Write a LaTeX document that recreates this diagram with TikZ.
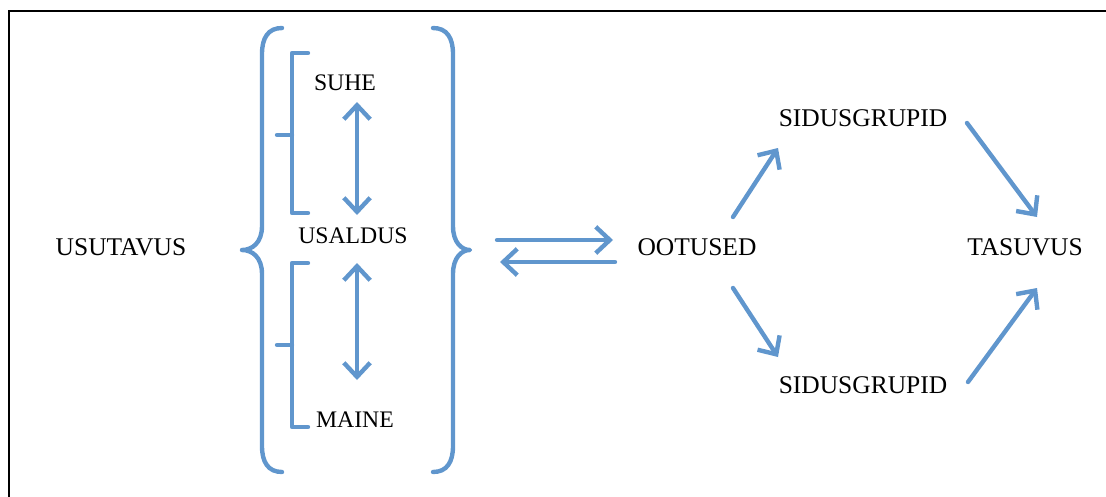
\documentclass[tikz,border=0pt]{standalone}
\usepackage{fontspec}
\setmainfont{Liberation Serif}
\usetikzlibrary{arrows.meta, calc}
\definecolor{brblue}{RGB}{96, 150, 205}

\begin{document}
\begin{tikzpicture}[x=0.02cm, y=-0.02cm,
    lbl/.style={font=\fontsize{14.5}{17}\selectfont, inner sep=1pt},
    inlbl/.style={font=\fontsize{13.5}{16}\selectfont, inner sep=1pt},
    blue line/.style={brblue, line width=2.5pt, line cap=round, line join=round},
    arr/.style={blue line, -{Straight Barb[length=8pt, width=15pt]}},
    dblarr/.style={blue line, {Straight Barb[length=8pt, width=15pt]}-{Straight Barb[length=8pt, width=15pt]}}]
  \useasboundingbox (0,0) rectangle (1106,497);

  % Frame
  \draw[black, line width=1.2pt] (9,497) -- (9,11) -- (1106,11);

  % Words
  \node[lbl] (usu) at (121,247) {USUTAVUS};
  \node[inlbl] (suhe) at (345,83) {SUHE};
  \node[inlbl] (usal) at (353,236) {USALDUS};
  \node[inlbl] (maine) at (355,420) {MAINE};
  \node[lbl] (oot) at (697,247) {OOTUSED};
  \node[lbl] (sid1) at (863,118) {SIDUSGRUPID};
  \node[lbl] (sid2) at (863,385) {SIDUSGRUPID};
  \node[lbl] (tas) at (1025,247) {TASUVUS};

  % Big braces
  \coordinate (ltip) at (242,250);
  \coordinate (rtip) at (470,250);
  \draw[blue line] (282,28) .. controls (268,28) and (262,38) .. (262,54)
    -- (262,226) .. controls (262,243) and (252,250) .. (ltip)
    .. controls (252,250) and (262,257) .. (262,274)
    -- (262,446) .. controls (262,462) and (268,472) .. (282,472);
  \draw[blue line] (433,28) .. controls (447,28) and (453,38) .. (453,54)
    -- (453,226) .. controls (453,243) and (462,250) .. (rtip)
    .. controls (462,250) and (453,257) .. (453,274)
    -- (453,446) .. controls (453,462) and (447,472) .. (433,472);

  % Small brackets
  \draw[blue line] (308,53) -- (292,53) -- (292,213) -- (308,213);
  \draw[blue line] (292,135) -- (277,135);
  \draw[blue line] (308,263) -- (292,263) -- (292,427) -- (308,427);
  \draw[blue line] (292,345) -- (277,345);

  % Vertical links
  \draw[dblarr] ($(suhe)+(12,19)$) -- ($(usal)+(4,-21)$);
  \draw[dblarr] ($(usal)+(4,27)$) -- ($(maine)+(2,-40)$);

  % Exchange arrows
  \draw[arr] ($(rtip)+(27,-10)$) -- ($(oot)+(-84,-7)$);
  \draw[arr] ($(oot)+(-82,15)$) -- ($(rtip)+(30,12)$);

  % Right side
  \draw[arr] ($(oot)+(36,-30)$) -- ($(sid1)+(-85,30)$);
  \draw[arr] ($(sid1)+(104,5)$) -- ($(tas)+(12,-30)$);
  \draw[arr] ($(oot)+(36,41)$) -- ($(sid2)+(-85,-28)$);
  \draw[arr] ($(sid2)+(105,-3)$) -- ($(tas)+(12,41)$);
\end{tikzpicture}
\end{document}
